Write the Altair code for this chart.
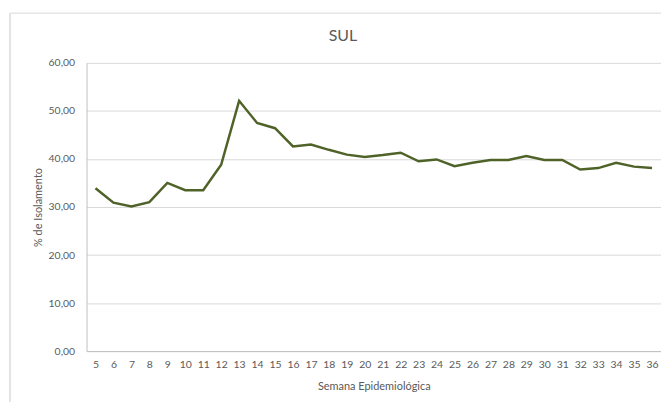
import altair as alt
import pandas as pd

semanas = list(range(5, 37))
isolamento = [33.9, 30.9, 30.1, 31.0, 35.0, 33.5, 33.5, 38.8, 52.1, 47.5, 46.4,
              42.6, 43.0, 41.9, 40.9, 40.4, 40.8, 41.3, 39.5, 39.9, 38.5, 39.2,
              39.8, 39.8, 40.6, 39.8, 39.8, 37.8, 38.1, 39.2, 38.4, 38.1]
y_ticks = [0, 10, 20, 30, 40, 50, 60]
titulo = "SUL"

df = pd.DataFrame({"semana": semanas, "iso": isolamento})

font = "Lato"
gray_txt = "#595959"

x_enc = alt.X("semana:O", title="Semana Epidemiológica",
              scale=alt.Scale(type="point", padding=0.5),
              axis=alt.Axis(labelAngle=0, ticks=False, labelPadding=9,
                            domainColor="#bfbfbf", titlePadding=10))
y_enc = alt.Y("iso:Q", title="% de Isolamento",
              scale=alt.Scale(domain=[0, 60], nice=False, zero=True),
              axis=alt.Axis(values=y_ticks, ticks=False, labelPadding=12,
                            labelExpr="replace(format(datum.value, '.2f'), '.', ',')",
                            domainColor="#bfbfbf", gridColor="#d9d9d9",
                            titlePadding=5))

line = alt.Chart(df).mark_line(color="#4f6228", strokeWidth=2.5).encode(x=x_enc, y=y_enc)

title_txt = alt.Chart(pd.DataFrame({"t": [titulo]})).mark_text(
    font=font, fontSize=16, color=gray_txt, align="center", baseline="middle"
).encode(x=alt.value(258), y=alt.value(-27), text="t:N")

frame_left = alt.Chart(pd.DataFrame({"a": [0]})).mark_rule(color="#c8c8c8", strokeWidth=1).encode(
    x=alt.value(-77), y=alt.value(-50), y2=alt.value(360))
frame_top = alt.Chart(pd.DataFrame({"a": [0]})).mark_rule(color="#d9d9d9", strokeWidth=1).encode(
    x=alt.value(-77), x2=alt.value(700), y=alt.value(-50))

chart = alt.layer(frame_left, frame_top, line, title_txt).properties(
    width=578, height=290,
    autosize=alt.AutoSizeParams(type="none"),
    padding={"left": 79, "top": 54, "right": 0, "bottom": 50},
).configure_view(stroke=None).configure_axis(
    labelFont=font, titleFont=font, labelFontSize=10.5, titleFontSize=11,
    labelColor=gray_txt, titleColor=gray_txt, titleFontWeight="normal", grid=True
).configure_axisX(grid=False)

chart.save("out.html", embed_options={"renderer": "svg", "actions": False})
